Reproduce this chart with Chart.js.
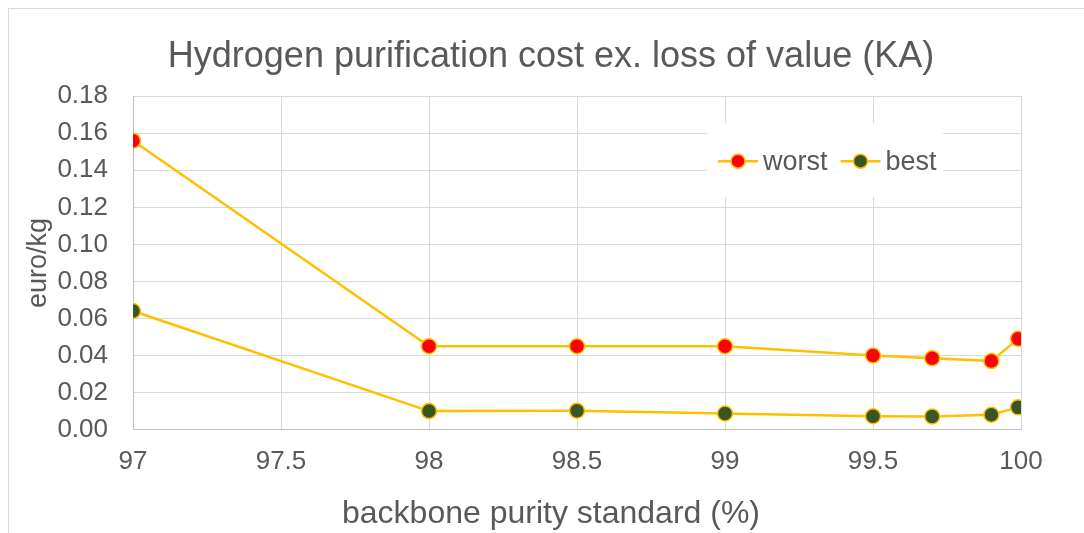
<!DOCTYPE html>
<html>
<head>
<meta charset="utf-8">
<script src="https://cdn.jsdelivr.net/npm/chart.js@4"></script>
<style>
  html, body { margin: 0; padding: 0; background: #fff; overflow: hidden; }
  #wrap { position: relative; width: 1084px; height: 533px; }
  #frame { position: absolute; left: 8px; top: 8px; width: 1100px; height: 600px; border: 1px solid #d9d9d9; pointer-events: none; }
</style>
</head>
<body>
<div id="wrap">
  <canvas id="chart" width="1084" height="533"></canvas>
  <div id="frame"></div>
</div>
<script>
/* purity standard (%) on x, cost in euro/kg on y */
const purity = [97, 98, 98.5, 99, 99.5, 99.7, 99.9, 99.99];
const worst = [0.156, 0.045, 0.045, 0.045, 0.040, 0.0385, 0.037, 0.049];
const best = [0.064, 0.0100, 0.0102, 0.0087, 0.0072, 0.0071, 0.0080, 0.0120];
const seriesNames = ['worst', 'best'];

const textColor = '#595959';
const gridColor = '#d9d9d9';
const lineColor = '#FFC000';
const fontFamily = '"Liberation Sans", Arial, sans-serif';

const toPoints = (ys) => purity.map((x, i) => ({ x, y: ys[i] }));

// legend drawn inside the plot on a white box, like the original
const insideLegend = {
  id: 'insideLegend',
  afterDatasetsDraw(chart) {
    const { ctx, chartArea } = chart;
    const boxX = chartArea.right - 314, boxY = chartArea.top + 27;
    ctx.save();
    ctx.fillStyle = '#fff';
    ctx.fillRect(boxX, boxY, 236, 74);
    ctx.font = '27px ' + fontFamily;
    ctx.textBaseline = 'middle';
    const cy = boxY + 38;
    let x = boxX + 11;
    chart.data.datasets.forEach(ds => {
      ctx.strokeStyle = ds.borderColor;
      ctx.lineWidth = ds.borderWidth;
      ctx.beginPath();
      ctx.moveTo(x, cy);
      ctx.lineTo(x + 40, cy);
      ctx.stroke();
      ctx.beginPath();
      ctx.arc(x + 20, cy, 7, 0, Math.PI * 2);
      ctx.fillStyle = ds.pointBackgroundColor;
      ctx.fill();
      ctx.lineWidth = ds.pointBorderWidth;
      ctx.strokeStyle = ds.pointBorderColor;
      ctx.stroke();
      ctx.fillStyle = textColor;
      ctx.fillText(ds.label, x + 45, cy + 1);
      x += 45 + ctx.measureText(ds.label).width + 13;
    });
    ctx.restore();
  }
};

const makeSeries = (label, ys, fill) => ({
  label,
  data: toPoints(ys),
  borderColor: lineColor,
  borderWidth: 2.5,
  pointBackgroundColor: fill,
  pointBorderColor: lineColor,
  pointBorderWidth: 1.5,
  pointRadius: 7.5,
  tension: 0
});

new Chart(document.getElementById('chart'), {
  type: 'line',
  data: {
    datasets: [
      makeSeries(seriesNames[0], worst, '#FF0000'),
      makeSeries(seriesNames[1], best, '#375623')
    ]
  },
  options: {
    responsive: false,
    animation: false,
    devicePixelRatio: 1,
    layout: { padding: { left: 18, right: 0, top: 0, bottom: 0 } },
    plugins: {
      legend: { display: false },
      tooltip: { enabled: false },
      title: {
        display: true,
        text: 'Hydrogen purification cost ex. loss of value (KA)',
        color: textColor,
        font: { family: fontFamily, size: 36, weight: 'normal' },
        padding: { top: 35, bottom: 18 }
      },
      // x axis title, centred on the whole chart like in Excel
      subtitle: {
        display: true,
        position: 'bottom',
        text: 'backbone purity standard (%)',
        color: textColor,
        font: { family: fontFamily, size: 32, weight: 'normal' },
        padding: { top: 16, bottom: 0 }
      }
    },
    scales: {
      x: {
        type: 'linear',
        min: 97,
        max: 100,
        grid: { color: gridColor, lineWidth: 1, drawTicks: false },
        border: { color: '#bfbfbf', width: 1 },
        ticks: {
          stepSize: 0.5,
          padding: 17,
          color: textColor,
          font: { family: fontFamily, size: 26 },
          callback: v => String(v)
        },
        afterFit(s) { s.height = 49; }
      },
      y: {
        min: 0,
        max: 0.18,
        grid: { color: gridColor, lineWidth: 1, drawTicks: false },
        border: { color: '#bfbfbf', width: 1 },
        ticks: {
          stepSize: 0.02,
          padding: 25,
          color: textColor,
          font: { family: fontFamily, size: 26 },
          callback: v => v.toFixed(2)
        },
        title: {
          display: true,
          text: 'euro/kg',
          color: textColor,
          font: { family: fontFamily, size: 27 },
          padding: { top: 4, bottom: 0 }
        },
        afterFit(s) { s.width = 115; }
      },
      spacer: {
        position: 'right',
        grid: { display: false },
        border: { display: false },
        ticks: { display: false },
        afterFit(s) { s.width = 63; }
      }
    }
  },
  plugins: [insideLegend]
});
</script>
</body>
</html>
